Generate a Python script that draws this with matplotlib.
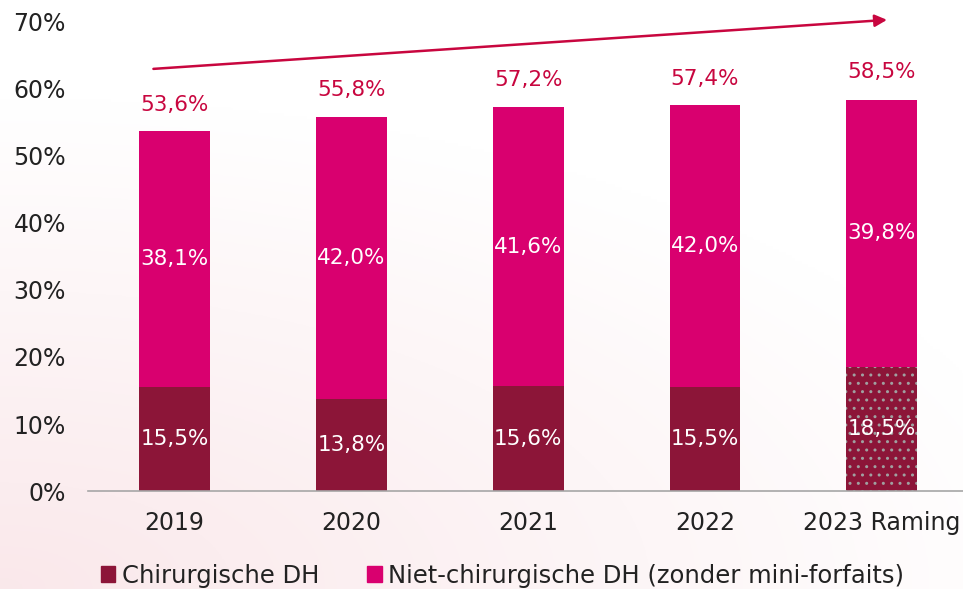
import numpy as np
import matplotlib.pyplot as plt
from matplotlib.patches import Patch

# === Data ===
jaren = ['2019', '2020', '2021', '2022', '2023 Raming']
chirurgisch = [15.5, 13.8, 15.6, 15.5, 18.5]
niet_chirurgisch = [38.1, 42.0, 41.6, 42.0, 39.8]
totaal = [53.6, 55.8, 57.2, 57.4, 58.5]

c_dark = '#8C1538'
c_pink = '#D9006F'
c_red = '#C8063F'
c_text = '#222222'

plt.rcParams['font.family'] = ['DejaVu Sans']

fig = plt.figure(figsize=(9.63, 5.89), dpi=100)

# zachte roze achtergrond (gradient naar linksonder)
bg = fig.add_axes([0, 0, 1, 1], zorder=-10)
yy, xx = np.mgrid[0:1:200j, 0:1:300j]
w = np.clip(1 - np.sqrt((xx * 0.9) ** 2 + (yy * 1.2) ** 2), 0, 1)
img = np.ones((200, 300, 3))
img[..., 0] = 1 - 0.02 * w
img[..., 1] = 1 - 0.09 * w
img[..., 2] = 1 - 0.08 * w
bg.imshow(img, extent=[0, 1, 0, 1], aspect='auto', origin='lower')
bg.axis('off')

ax = fig.add_axes([0.0914, 0.166, 0.9086, 0.798])
ax.patch.set_alpha(0)

x = np.arange(len(jaren))
bw = 0.40
hatches = [None, None, None, None, '..']
for i in x:
    ax.bar(i, chirurgisch[i], bw, color=c_dark,
           edgecolor='#A0A0A0' if hatches[i] else c_dark,
           hatch=hatches[i], linewidth=0)
ax.bar(x, niet_chirurgisch, bw, bottom=chirurgisch, color=c_pink, linewidth=0)

fmt = lambda v: f'{v:.1f}%'.replace('.', ',')
for i in x:
    ax.text(i, chirurgisch[i] / 2, fmt(chirurgisch[i]), ha='center', va='center',
            color='white', fontsize=15.5)
    ax.text(i, chirurgisch[i] + niet_chirurgisch[i] / 2, fmt(niet_chirurgisch[i]),
            ha='center', va='center', color='white', fontsize=15.5)
    ax.text(i, totaal[i] + 2.5, fmt(totaal[i]), ha='center', va='bottom',
            color=c_red, fontsize=15.5)

# trendpijl
ax.annotate('', xy=(4.03, 70.2), xytext=(-0.12, 62.9),
            arrowprops=dict(arrowstyle='-|>', color=c_red, lw=1.8,
                            mutation_scale=18, shrinkA=0, shrinkB=0),
            annotation_clip=False)

ax.set_xlim(-0.49, 4.46)
ax.set_ylim(0, 70)
ax.set_yticks(np.arange(0, 71, 10))
ax.set_yticklabels([f'{v}%' for v in range(0, 71, 10)])
ax.set_xticks(x)
ax.set_xticklabels(jaren)
ax.tick_params(axis='both', length=0, labelsize=17, colors=c_text)
ax.tick_params(axis='y', pad=16)
ax.tick_params(axis='x', pad=14)
for s in ['top', 'right', 'left']:
    ax.spines[s].set_visible(False)
ax.spines['bottom'].set_color('#A6A6A6')
ax.spines['bottom'].set_linewidth(1.2)

handles = [Patch(color=c_dark, label='Chirurgische DH'),
           Patch(color=c_pink, label='Niet-chirurgische DH (zonder mini-forfaits)')]
fig.legend(handles=handles, loc='lower left', bbox_to_anchor=(0.082, -0.035),
           ncol=2, frameon=False, fontsize=17.5, handlelength=0.6, handleheight=0.6,
           handletextpad=0.25, columnspacing=2.0, labelcolor=c_text)

fig.savefig('out.png', dpi=100)
